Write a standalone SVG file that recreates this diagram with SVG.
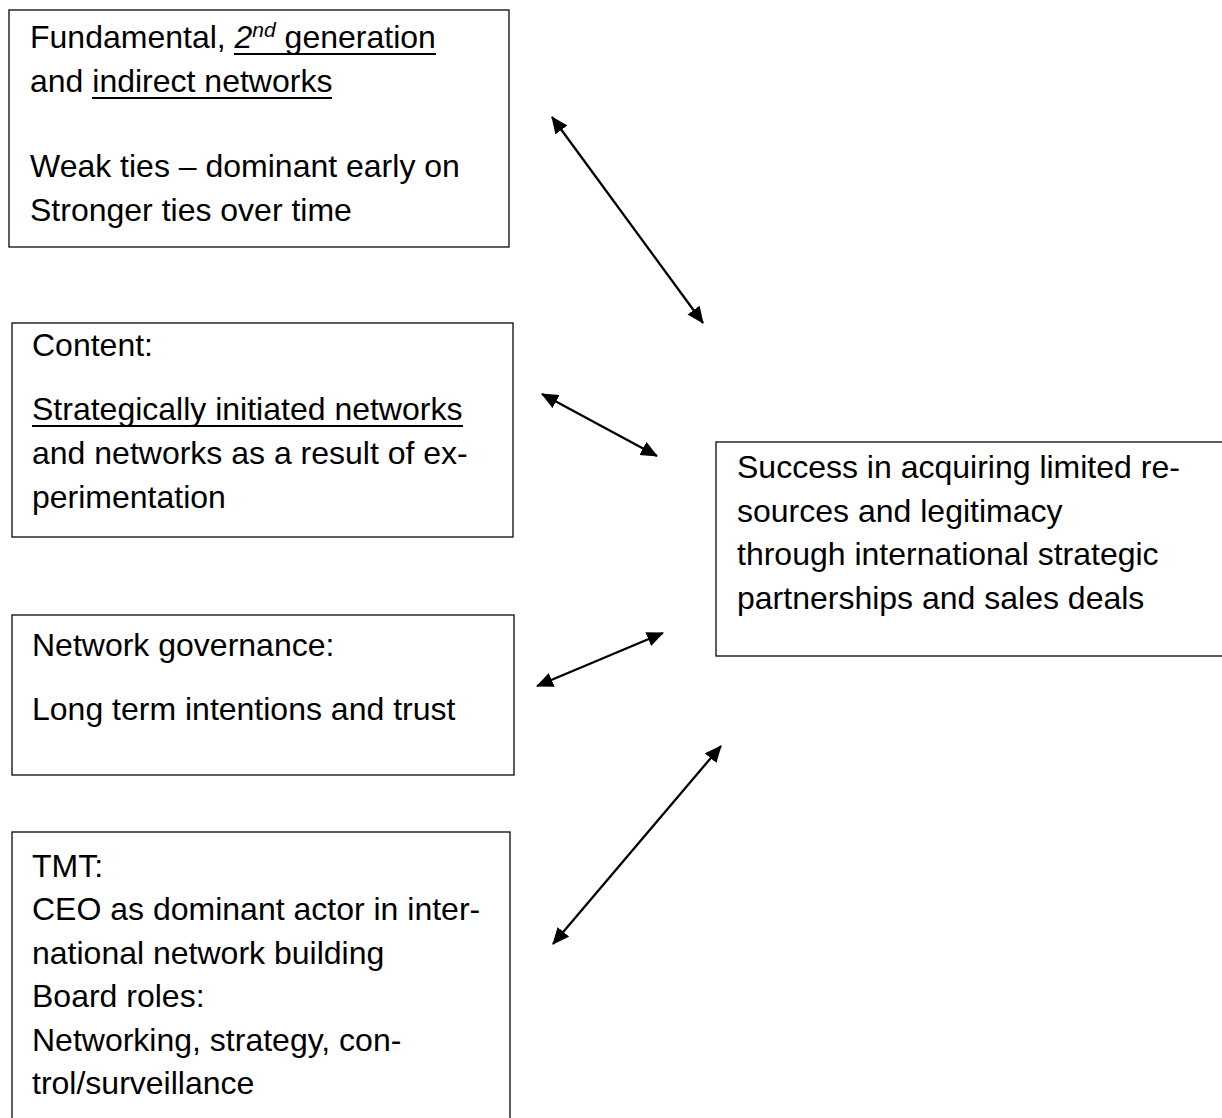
<svg xmlns="http://www.w3.org/2000/svg" width="1222" height="1118" viewBox="0 0 1222 1118">
<style>
.box{fill:#fff;stroke:#1a1a1a;stroke-width:1.4}
.t{font-family:"Liberation Sans",Arial,sans-serif;font-size:32px;fill:#000}
.ul{stroke:#000;stroke-width:2.2}
.con{stroke:#000;stroke-width:2.3;fill:none;marker-start:url(#ah);marker-end:url(#ah)}
</style>
<defs>
<marker id="ah" markerUnits="userSpaceOnUse" markerWidth="18" markerHeight="16" refX="16" refY="7.5" orient="auto-start-reverse">
<path d="M0,0 L17,7.5 L0,15 z" fill="#000"/>
</marker>
</defs>
<rect width="1222" height="1118" fill="#fff"/>
<g id="node-networks">
<rect class="box" x="9" y="10" width="500" height="237"/>
<text class="t" x="30" y="48">Fundamental, <tspan font-style="italic">2</tspan><tspan font-style="italic" font-size="21" dy="-11">nd</tspan><tspan dy="11"> generation</tspan></text>
<line class="ul" x1="234" y1="54" x2="436" y2="54"/>
<text class="t" x="30" y="92">and indirect networks</text>
<line class="ul" x1="92" y1="98" x2="332" y2="98"/>
<text class="t" x="30" y="177">Weak ties – dominant early on</text>
<text class="t" x="30" y="221">Stronger ties over time</text>
</g>
<g id="node-content">
<rect class="box" x="12" y="323" width="501" height="214"/>
<text class="t" x="32" y="356">Content:</text>
<text class="t" x="32" y="420">Strategically initiated networks</text>
<line class="ul" x1="32" y1="426" x2="463" y2="426"/>
<text class="t" x="32" y="464">and networks as a result of ex-</text>
<text class="t" x="32" y="508">perimentation</text>
</g>
<g id="node-governance">
<rect class="box" x="12" y="615" width="502" height="160"/>
<text class="t" x="32" y="656">Network governance:</text>
<text class="t" x="32" y="720">Long term intentions and trust</text>
</g>
<g id="node-tmt">
<rect class="box" x="12" y="832" width="498" height="300"/>
<text class="t" x="32" y="877">TMT:</text>
<text class="t" x="32" y="920">CEO as dominant actor in inter-</text>
<text class="t" x="32" y="964">national network building</text>
<text class="t" x="32" y="1007">Board roles:</text>
<text class="t" x="32" y="1051">Networking, strategy, con-</text>
<text class="t" x="32" y="1094">trol/surveillance</text>
</g>
<g id="node-success">
<rect class="box" x="716" y="442" width="520" height="214"/>
<text class="t" x="737" y="478">Success in acquiring limited re-</text>
<text class="t" x="737" y="522">sources and legitimacy</text>
<text class="t" x="737" y="565">through international strategic</text>
<text class="t" x="737" y="609">partnerships and sales deals</text>
</g>
<g id="connectors">
<line class="con" x1="552" y1="117" x2="703" y2="323"/>
<line class="con" x1="542" y1="394" x2="657" y2="456"/>
<line class="con" x1="537" y1="686" x2="663" y2="633"/>
<line class="con" x1="553" y1="944" x2="721" y2="746"/>
</g>
</svg>
